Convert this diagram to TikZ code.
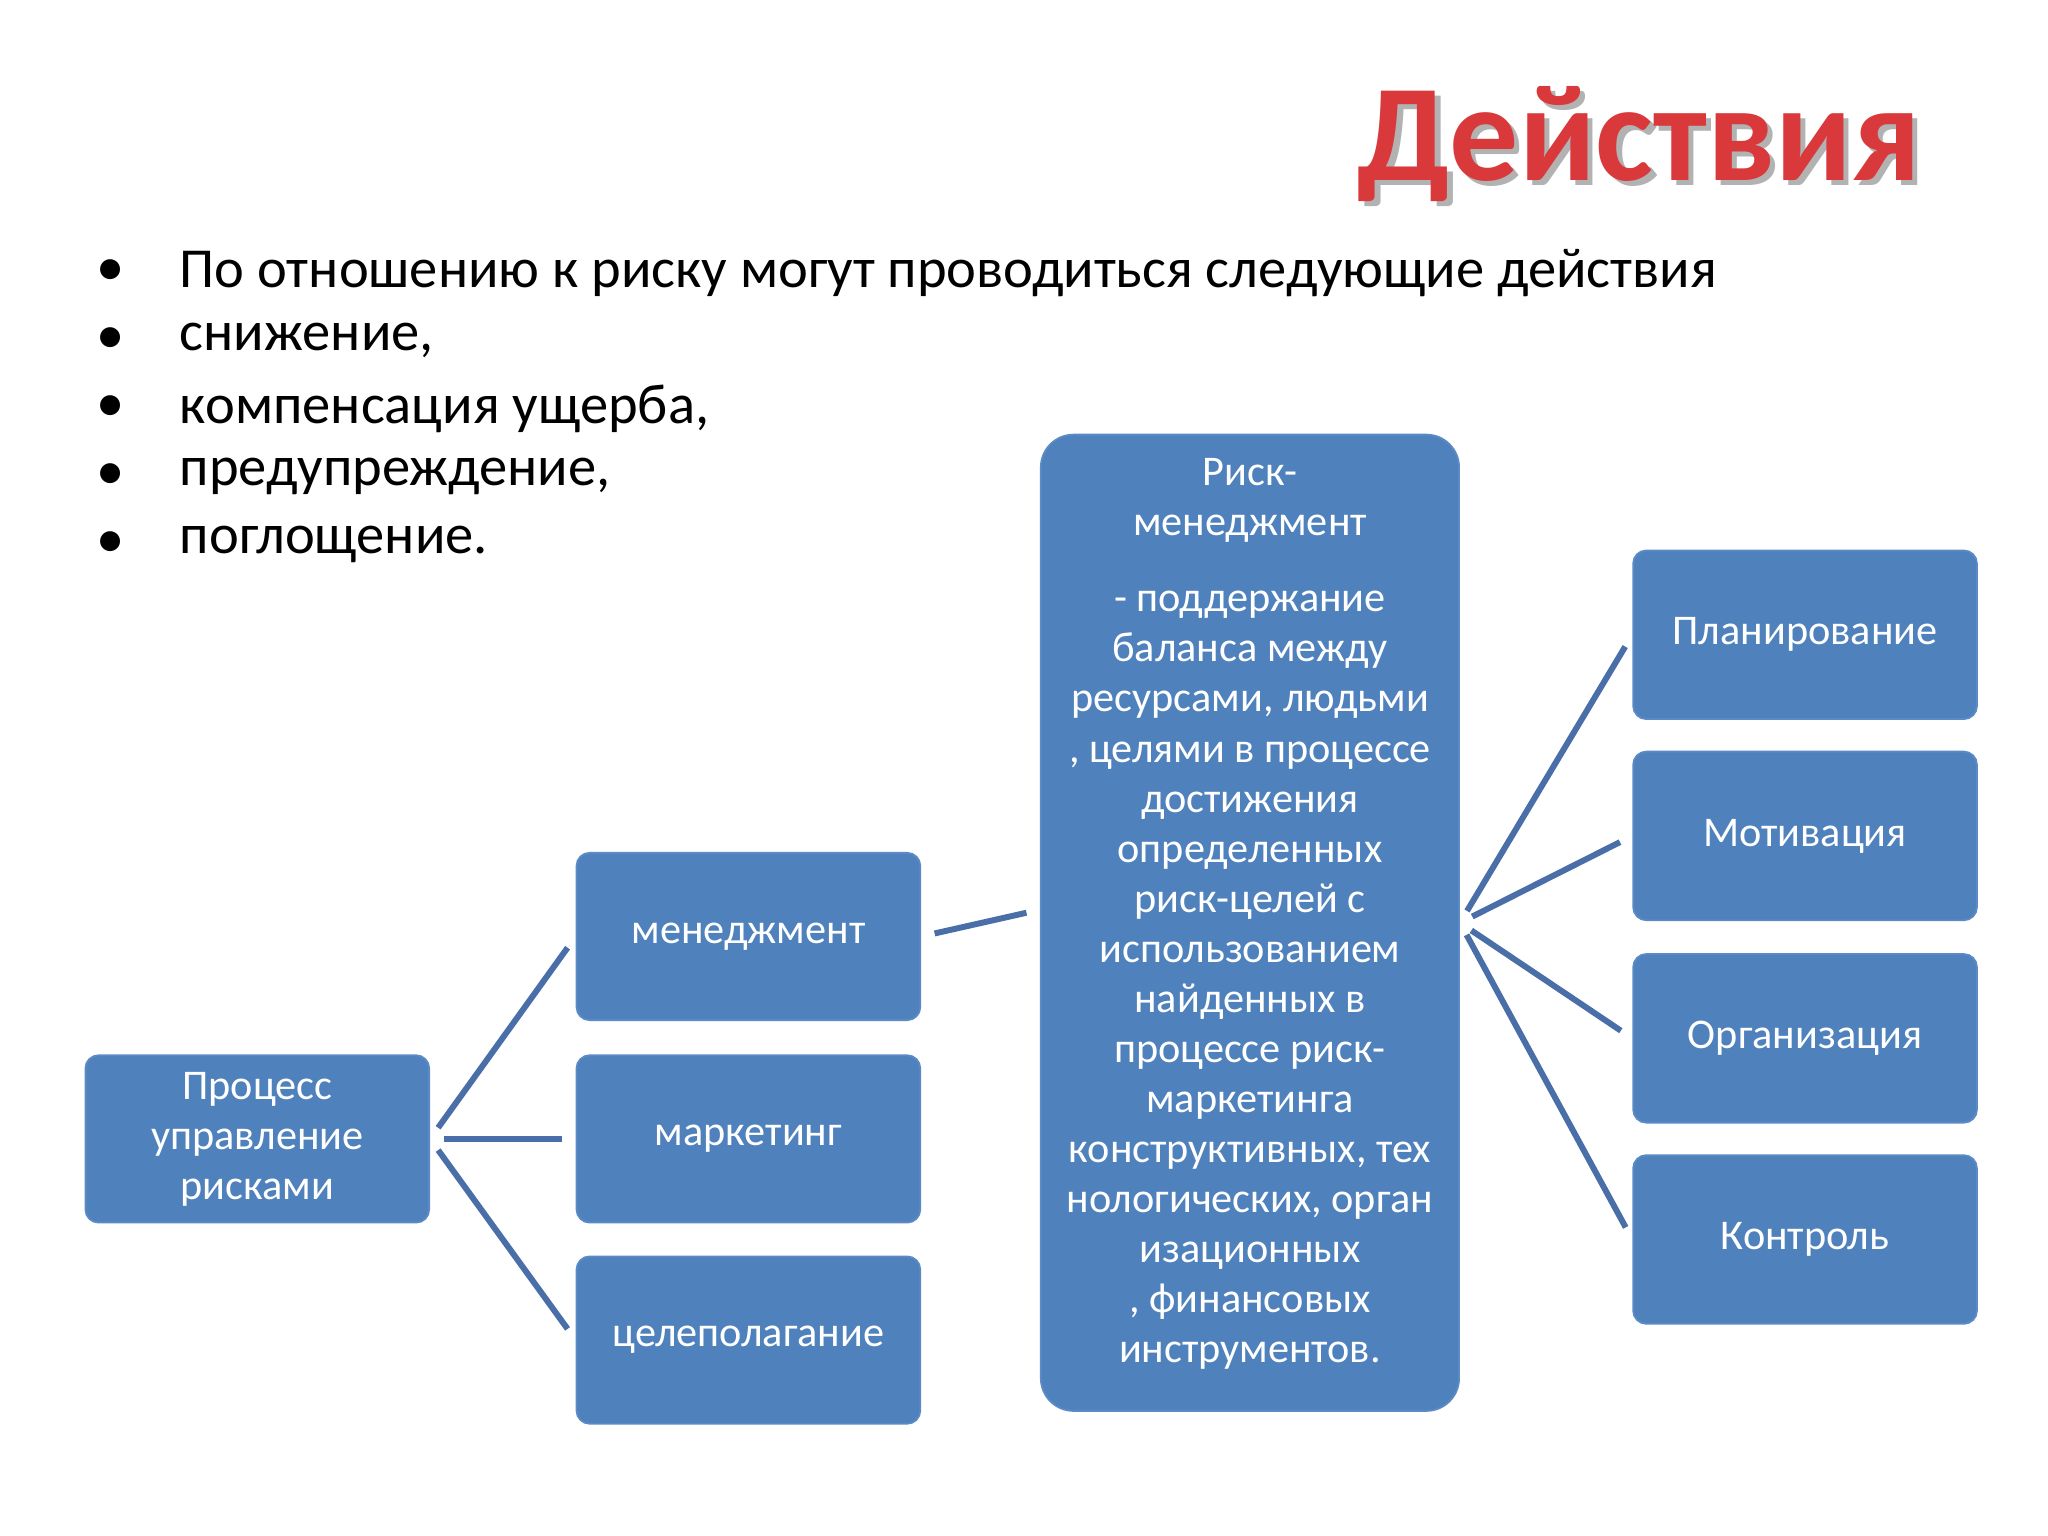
\documentclass[tikz,border=0pt]{standalone}
\usepackage{fontspec}
\setmainfont{Carlito}
\usetikzlibrary{positioning}
\definecolor{boxblue}{HTML}{4F81BD}
\definecolor{edgeblue}{HTML}{5B8AC6}
\definecolor{lineblue}{HTML}{4A6FA8}
\definecolor{titlered}{HTML}{D9393A}
\tikzset{
  bx/.style={draw=edgeblue, fill=boxblue, rounded corners=0.1cm, text=white, align=center,
    font=\fontsize{9.2}{10.9}\selectfont, inner sep=0pt},
  conn/.style={draw=lineblue, line width=1.3pt, shorten <=3pt, shorten >=3pt},
}
\begin{document}
\begin{tikzpicture}[x=0.01cm,y=-0.01cm]
\useasboundingbox (0,0) rectangle (1568,1176);
% title
\node[text=gray!60, font=\fontsize{30}{32}\bfseries\selectfont] at (1259,114) {Действия};
\node (title) [text=titlered, font=\fontsize{30}{32}\bfseries\selectfont] at (1255,110) {Действия};
% bullets
\foreach \t [count=\i] in {По отношению к риску могут проводиться следующие действия, {снижение,}, {компенсация ущерба,}, {предупреждение,}, поглощение.}{
  \node (b\i) [anchor=west, font=\fontsize{12.3}{14}\selectfont, inner sep=0pt] at (137,{157+52*\i}) {\t};
  \node (d\i) [font=\fontsize{12.3}{14}\selectfont, inner sep=0pt] at (85,{157+52*\i}) {•};
}
% boxes
\node (p) [bx, minimum width=2.63cm, minimum height=1.28cm] at (197,872) {Процесс\\управление\\рисками};
\node (m1) [bx, minimum width=2.63cm, minimum height=1.28cm] at (573,717) {менеджмент};
\node (m2) [bx, minimum width=2.63cm, minimum height=1.28cm] at (573,872) {маркетинг};
\node (m3) [bx, minimum width=2.63cm, minimum height=1.28cm] at (573,1026) {целеполагание};
\node (r) [bx, rounded corners=0.25cm, minimum width=3.2cm, minimum height=7.47cm] at (957,706.5) {};
\node (rt) [text=white, align=center, font=\fontsize{9.2}{10.9}\selectfont, inner sep=0pt, anchor=north] at (957,350) {Риск-\\менеджмент};
\node (rb) [text=white, align=center, font=\fontsize{9.2}{10.9}\selectfont, inner sep=0pt, anchor=north] at (957,452) {- поддержание\\баланса между\\ресурсами, людьми\\, целями в процессе\\достижения\\определенных\\риск-целей с\\использованием\\найденных в\\процессе риск-\\маркетинга\\конструктивных, тех\\нологических, орган\\изационных\\, финансовых\\инструментов.};
\node (q1) [bx, minimum width=2.63cm, minimum height=1.29cm] at (1382,486) {Планирование};
\node (q2) [bx, minimum width=2.63cm, minimum height=1.29cm] at (1382,640) {Мотивация};
\node (q3) [bx, minimum width=2.63cm, minimum height=1.29cm] at (1382,795) {Организация};
\node (q4) [bx, minimum width=2.63cm, minimum height=1.29cm] at (1382,949) {Контроль};
% connectors
\foreach \n in {m1,m2,m3} \draw[conn] (p.east) -- (\n.west);
\draw[conn] (m1.east) -- ([yshift=0.1cm]r.west);
\foreach \n in {q1,q2,q3,q4} \draw[conn] (r.east) -- (\n.west);
\end{tikzpicture}
\end{document}
